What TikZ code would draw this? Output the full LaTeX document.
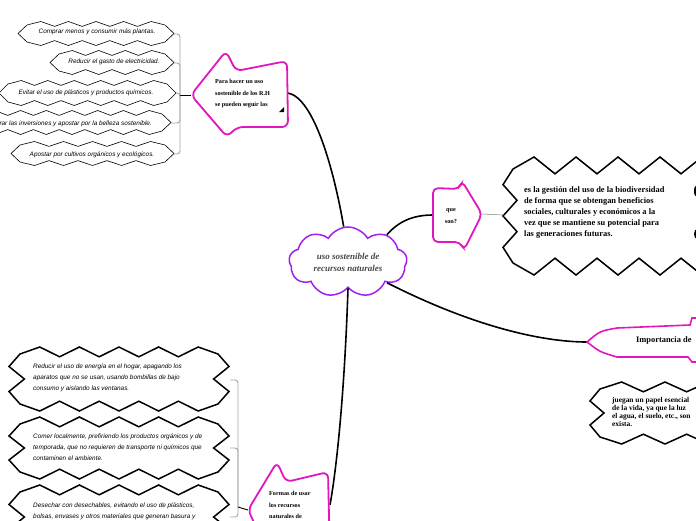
\documentclass[tikz,border=0pt]{standalone}
\usepackage{fontspec}
\setmainfont{Liberation Serif}
\newfontfamily\handfont{Liberation Sans}
\usetikzlibrary{shapes.symbols}
\definecolor{mag}{RGB}{226,22,190}
\definecolor{vio}{RGB}{160,32,240}
\definecolor{brk}{RGB}{165,165,165}
\definecolor{cloudtxt}{RGB}{70,70,70}
% zigzag box: body x1 y1 x2 y2, teeth on long edges, their depth, teeth on short edges, their depth, style
% odd points go out by the depth, even points go in by 0.4 of it
\newcommand\zigpoly[9]{%
 \pgfmathtruncatemacro\zzh{2*#5-1}\pgfmathtruncatemacro\zzv{2*#7-1}%
 \filldraw[fill=white,#9] (#1,#2)
 \foreach \i in {1,...,\zzh}{ -- ({(#1)+\i*((#3)-(#1))/(2*#5)},{(#2)-(mod(\i,2)*1.4-0.4)*#6}) } -- (#3,#2)
 \foreach \i in {1,...,\zzv}{ -- ({(#3)+(mod(\i,2)*1.4-0.4)*#8},{(#2)+\i*((#4)-(#2))/(2*#7)}) } -- (#3,#4)
 \foreach \i in {1,...,\zzh}{ -- ({(#3)-\i*((#3)-(#1))/(2*#5)},{(#4)+(mod(\i,2)*1.4-0.4)*#6}) } -- (#1,#4)
 \foreach \i in {1,...,\zzv}{ -- ({(#1)-(mod(\i,2)*1.4-0.4)*#8},{(#4)-\i*((#4)-(#2))/(2*#7)}) } -- cycle;}
\begin{document}
\begin{tikzpicture}[x=1pt,y=-1pt,
  hand/.style={font=\handfont\itshape\fontsize{6.4}{11}\selectfont, align=left, inner sep=0pt},
  bigtxt/.style={font=\bfseries\fontsize{8.4}{11}\selectfont, align=left, inner sep=0pt},
  notetxt/.style={font=\bfseries\fontsize{7.4}{7.8}\selectfont, align=left, inner sep=0pt},
  arrowtxt/.style={font=\bfseries\fontsize{6.2}{11.5}\selectfont, align=left, inner sep=0pt},
  conn/.style={line width=1.6pt, black},
  brack/.style={draw=brk, line width=0.9pt, rounded corners=3pt},
  magshape/.style={draw=mag, line width=1.8pt, rounded corners=6pt, fill=white},
  thinzig/.style={line width=0.6pt},
  thickzig/.style={line width=1.5pt}]
\useasboundingbox (0,0) rectangle (696,520);

% ---------- central cloud ----------
\node[cloud, cloud puffs=9, cloud puff arc=120, aspect=1.8, draw=vio, line width=1.5pt,
  minimum width=118pt, minimum height=70pt, inner sep=0pt, align=center, text=cloudtxt,
  font=\bfseries\itshape\fontsize{9}{12}\selectfont] (c) at (348,262)
  {uso sostenible de\\recursos naturales};

% ---------- named connector ends ----------
\coordinate (a1r) at (288,93);
\coordinate (a1t) at (191,95);
\coordinate (j1) at (180,95);
\coordinate (q1l) at (433,215);
\coordinate (q1t) at (482,214);
\coordinate (ql) at (503,215);
\coordinate (imp) at (587,342);
\coordinate (a3r) at (330,505);
\coordinate (a3t) at (248,510);
\coordinate (j2) at (238,507);

% ---------- main connectors ----------
\draw[conn] (a1r) .. controls (314,98) and (334,170) .. (c.97);
\draw[conn] (c.35) .. controls (398,222) and (412,215) .. (q1l);
\draw[conn] (c.-28) .. controls (470,325) and (540,342) .. (imp);
\draw[conn] (c.-90) .. controls (345,380) and (338,460) .. (a3r);
\draw[line width=0.5pt, gray] (q1t) -- (ql);

% ---------- top-left arrow ----------
\draw[magshape] (a1t) -- (226,51) -- (236,71) -- (287,61) -- (288,127) -- (237,127) -- (227,137) -- cycle;
\node[arrowtxt, anchor=west] (a1) at (215,94) {Para hacer un uso\\sostenible de los R.H\\se pueden seguir las};
\fill (279,112) -- (284,112) -- (284,107) -- cycle;

% ---------- top-left banners ----------
\zigpoly{27}{25}{165}{42}{5}{3.5}{1}{9}{thinzig}
\zigpoly{59}{54}{165}{71}{4}{3.5}{1}{9}{thinzig}
\zigpoly{8}{84}{167}{102}{6}{3.5}{1}{9}{thinzig}
\zigpoly{-18}{114}{162}{131}{7}{3.5}{1}{9}{thinzig}
\zigpoly{20}{145}{165}{162}{5}{3.5}{1}{9}{thinzig}
\node[hand] (b1) at (97,32) {Comprar menos y consumir más plantas.};
\node[hand] (b2) at (114,62) {Reducir el gasto de electricidad.};
\node[hand] (b3) at (86,93) {Evitar el uso de plásticos y productos químicos.};
\node[hand, anchor=east] (b4) at (152,124) {Mejorar las inversiones y apostar por la belleza sostenible.};
\node[hand] (b5) at (92,155) {Apostar por cultivos orgánicos y ecológicos.};
\coordinate (b1e) at (174,34);
\coordinate (b2e) at (174,63);
\coordinate (b3e) at (176,93);
\coordinate (b4e) at (171,123);
\coordinate (b5e) at (174,154);
\draw[brack] (j1) -- (180,34) -- (b1e);
\draw[brack] (j1) -- (180,63) -- (b2e);
\draw[brack] (j1) -- (180,93) -- (b3e);
\draw[brack] (j1) -- (180,123) -- (b4e);
\draw[brack] (j1) -- (180,154) -- (b5e);
\draw[line width=0.9pt] (a1t) -- (j1);

% ---------- que son? ----------
\draw[magshape, rounded corners=5pt] (q1l) -- (433,188) -- (459,189) -- (462,181) -- (q1t) -- (464,250) -- (460,242) -- (433,242) -- cycle;
\node[arrowtxt, align=center] (q1) at (451,216) {que\\son?};

% ---------- big zigzag definition ----------
\zigpoly{513}{169}{723}{263}{5}{12}{3}{10}{thickzig}
\node[bigtxt, anchor=west] (qd) at (524,213) { es la gestión del uso de la biodiversidad\\de forma que se obtengan beneficios\\sociales, culturales y económicos a la\\vez que se mantiene su potencial para\\las generaciones futuras.};
\fill (697,191) ellipse (3pt and 6pt);
\fill (697,234) ellipse (3pt and 5pt);

% ---------- Importancia ----------
\draw[mag, line width=1.6pt, fill=white] (720,318) -- (692,318) -- (690,325) -- (617,328)
  .. controls (600,331) .. (imp) .. controls (600,352) .. (617,357) -- (688,357) -- (692,362) -- (720,362);
\node[bigtxt, anchor=west] (im) at (636,340) {Importancia de};

% ---------- note ----------
\zigpoly{600}{389}{730}{437}{3}{7}{2}{10}{thickzig}
\node[notetxt, anchor=west] (nt) at (612,412) {juegan un papel esencial\\de la vida, ya que la luz\\el agua, el suelo, etc., son\\exista.};

% ---------- bottom arrow ----------
\draw[magshape] (a3t) -- (277,462) -- (286,482) -- (328,472) -- (330,560) -- (286,560) -- (277,570) -- cycle;
\node[arrowtxt, anchor=west] (a3) at (269,505) {Formas de usar\\los recursos\\naturales de};

% ---------- bottom-left boxes ----------
\zigpoly{20}{354}{218}{404}{5}{7}{2}{11}{thickzig}
\zigpoly{20}{424}{218}{472}{5}{7}{2}{11}{thickzig}
\zigpoly{20}{492}{218}{542}{5}{7}{2}{11}{thickzig}
\node[hand, anchor=west] (ba) at (33,378) {Reducir el uso de energía en el hogar, apagando los\\aparatos que no se usan, usando bombillas de bajo\\consumo y aislando las ventanas.};
\node[hand, anchor=west] (bb) at (33,447) {Comer localmente, prefiriendo los productos orgánicos y de\\temporada, que no requieren de transporte ni químicos que\\contaminen el ambiente.};
\node[hand, anchor=west] (bc) at (33,511) {Desechar con desechables, evitando el uso de plásticos,\\bolsas, envases y otros materiales que generan basura y};
\coordinate (bae) at (230,380);
\coordinate (bbe) at (230,448);
\coordinate (bce) at (230,517);
\draw[brack] (j2) -- (238,380) -- (bae);
\draw[brack] (j2) -- (238,448) -- (bbe);
\draw[brack] (j2) -- (238,517) -- (bce);
\draw[line width=0.9pt] (a3t) -- (j2);
\end{tikzpicture}
\end{document}
